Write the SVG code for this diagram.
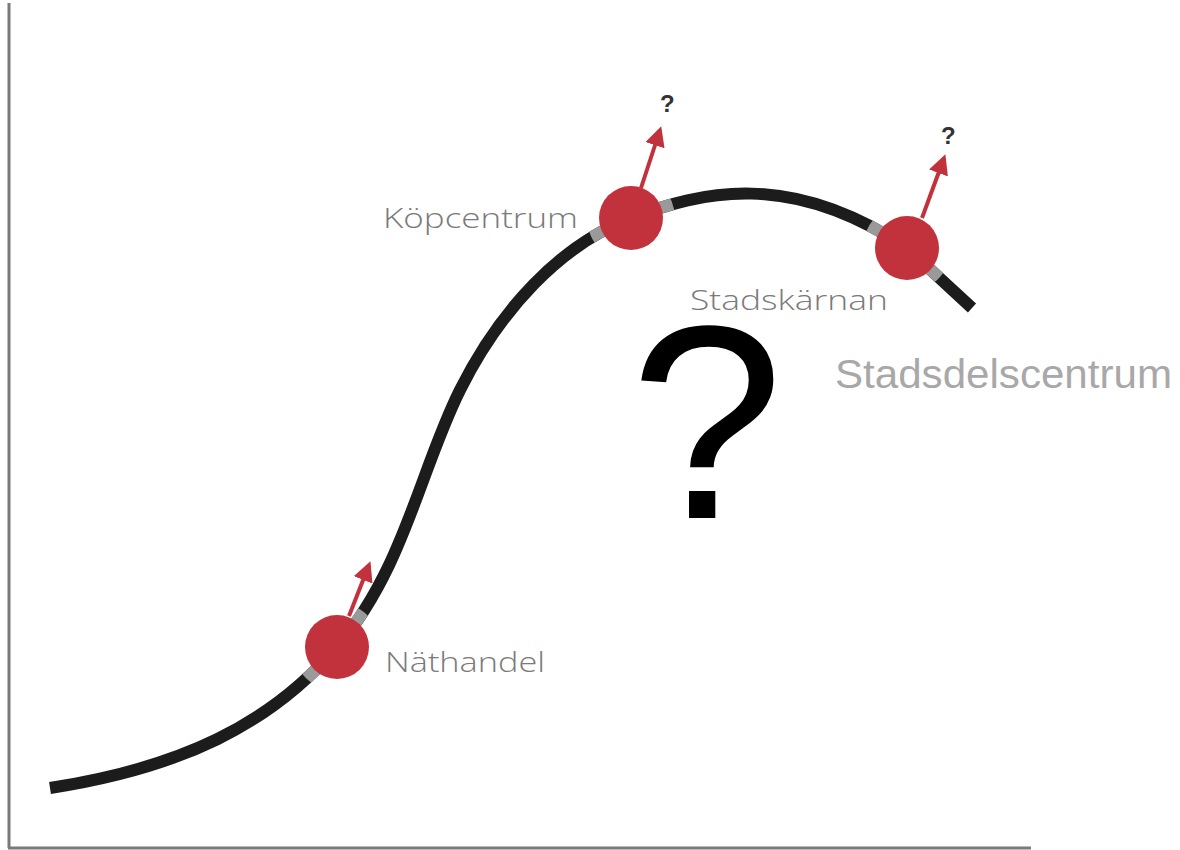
<svg xmlns="http://www.w3.org/2000/svg" width="1180" height="850" viewBox="0 0 1180 850">
<defs>
<style>
.axis{stroke:#7a7a7a;stroke-width:3;fill:none}
.curve{fill:none;stroke:#1c1c1c;stroke-width:12;stroke-linecap:butt}
.curve-gray{fill:none;stroke:#9a9a9a;stroke-width:12}
.dot{fill:#c2323c}
.arrow{stroke:#c2323c;stroke-width:4;fill:none}
.lbl{font-family:"Open Sans","Liberation Sans",sans-serif;font-weight:300;fill:#7a7a7a;font-size:27px}
.q{font-family:"Liberation Sans",Arial,sans-serif;font-weight:bold;fill:#333;font-size:24px}
</style>
<linearGradient id="fade1" gradientUnits="userSpaceOnUse" x1="349" y1="615" x2="370" y2="563"><stop offset="0" stop-color="#e8a0a5"/><stop offset="0.35" stop-color="#c2323c"/></linearGradient>
<linearGradient id="fade2" gradientUnits="userSpaceOnUse" x1="641" y1="187" x2="661" y2="127"><stop offset="0" stop-color="#e8a0a5"/><stop offset="0.35" stop-color="#c2323c"/></linearGradient>
<linearGradient id="fade3" gradientUnits="userSpaceOnUse" x1="922" y1="217" x2="945" y2="155"><stop offset="0" stop-color="#e8a0a5"/><stop offset="0.35" stop-color="#c2323c"/></linearGradient>
<marker id="ah" viewBox="0 0 10 10" refX="8" refY="5" markerWidth="5" markerHeight="5" orient="auto" markerUnits="strokeWidth"><path d="M0,0 L10,5 L0,10 z" fill="#c2323c"/></marker>
<clipPath id="nodeZone"><circle cx="337" cy="647" r="44"/><circle cx="631" cy="218" r="44"/><circle cx="907" cy="248" r="44"/></clipPath>
</defs>
<rect width="1180" height="850" fill="#fff"/>
<g id="axes">
<line class="axis" x1="9" y1="3" x2="9" y2="848"/>
<line class="axis" x1="8" y1="848" x2="1031" y2="848"/>
</g>
<g id="connectors">
<path id="scurve" class="curve" d="M50,788 C180,768 270,725 337,647 S420,470 460,390 S560,245 631,218 C702,191 790,170 907,248 L972,308"/>
<path class="curve-gray" clip-path="url(#nodeZone)" d="M50,788 C180,768 270,725 337,647 S420,470 460,390 S560,245 631,218 C702,191 790,170 907,248 L972,308"/>
<line class="arrow" stroke="url(#fade1)" x1="349" y1="616" x2="369" y2="565" marker-end="url(#ah)"/>
<line class="arrow" stroke="url(#fade2)" x1="641" y1="188" x2="660" y2="130" marker-end="url(#ah)"/>
<line class="arrow" stroke="url(#fade3)" x1="922" y1="218" x2="944" y2="158" marker-end="url(#ah)"/>
</g>
<g id="node-nathandel">
<circle class="dot" cx="337" cy="647" r="32"/>
<text class="lbl" x="385" y="672" textLength="160" lengthAdjust="spacingAndGlyphs">Näthandel</text>
</g>
<g id="node-kopcentrum">
<circle class="dot" cx="631" cy="218" r="32"/>
<text class="lbl" x="383" y="228" textLength="195" lengthAdjust="spacingAndGlyphs">Köpcentrum</text>
<text class="q" x="660" y="112">?</text>
</g>
<g id="node-stadskarnan">
<circle class="dot" cx="907" cy="248" r="32"/>
<text class="lbl" x="690" y="310" textLength="198" lengthAdjust="spacingAndGlyphs">Stadskärnan</text>
<text class="q" x="941" y="144">?</text>
</g>
<g id="node-stadsdelscentrum">
<text x="835" y="388" font-family="'Liberation Sans',Arial,sans-serif" font-size="40" fill="#a8a8a8" textLength="337" lengthAdjust="spacingAndGlyphs">Stadsdelscentrum</text>
</g>
<g id="big-question">
<text x="630" y="518" font-family="'Liberation Sans',Arial,sans-serif" font-size="276" fill="#000">?</text>
</g>
</svg>
